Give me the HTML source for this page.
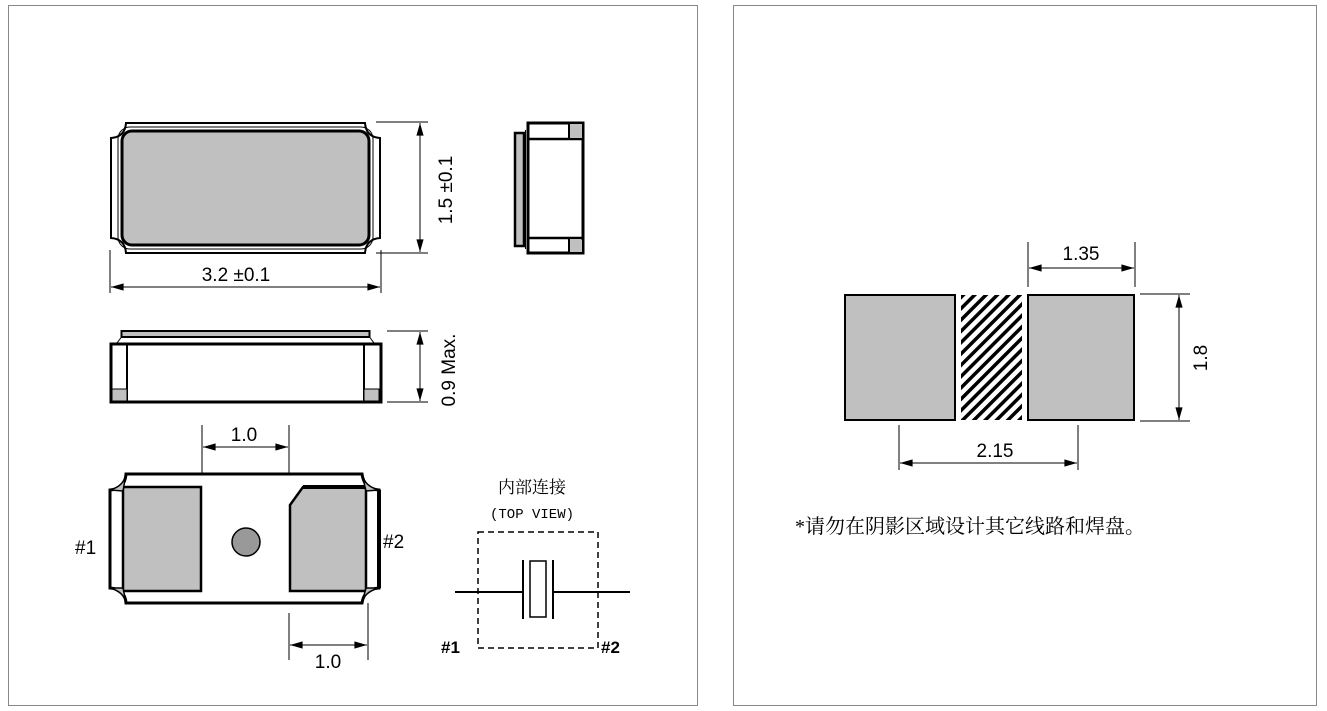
<!DOCTYPE html>
<html><head><meta charset="utf-8"><style>
body{margin:0;background:#fff;}
svg{display:block;}
text{font-family:"Liberation Sans",sans-serif;fill:#000;}
.cn{font-family:"Liberation Serif","Noto Serif CJK SC","Noto Sans CJK SC",serif;}
</style></head><body>
<svg width="1327" height="711" viewBox="0 0 1327 711" xmlns="http://www.w3.org/2000/svg">
<defs>
<marker id="a" viewBox="0 0 14 10" refX="14" refY="5" markerWidth="14" markerHeight="9" markerUnits="userSpaceOnUse" orient="auto-start-reverse"><path d="M0,1 L14,5 L0,9 Z" fill="#000"/></marker>
<pattern id="h" patternUnits="userSpaceOnUse" width="8" height="8" patternTransform="rotate(45)"><rect width="8" height="8" fill="#fff"/><rect x="0" y="0" width="3.5" height="8" fill="#000"/></pattern>
</defs>
<rect x="8.5" y="5.5" width="689" height="700" fill="none" stroke="#888" stroke-width="1"/>
<rect x="733.5" y="5.5" width="583" height="700" fill="none" stroke="#888" stroke-width="1"/>

<!-- top view -->
<path d="M126,123 L365,123 Q366,137 380,138 L380,238 Q366,239 365,253 L126,253 Q125,239 111,238 L111,138 Q125,137 126,123 Z" fill="#fff" stroke="#000" stroke-width="2"/>
<rect x="118" y="127" width="255" height="122" rx="12" fill="none" stroke="#000" stroke-width="1"/>
<rect x="122" y="131" width="247" height="114" rx="10" fill="#c0c0c0" stroke="#000" stroke-width="3"/>
<g stroke="#000" stroke-width="1">
<line x1="376" y1="122" x2="428" y2="122"/><line x1="376" y1="253" x2="428" y2="253"/>
<line x1="420" y1="123" x2="420" y2="252" marker-start="url(#a)" marker-end="url(#a)"/>
<line x1="110" y1="250" x2="110" y2="293"/><line x1="381" y1="250" x2="381" y2="293"/>
<line x1="111" y1="287" x2="380" y2="287" marker-start="url(#a)" marker-end="url(#a)"/>
</g>
<text x="236" y="281" font-size="19" text-anchor="middle">3.2 ±0.1</text>
<text transform="translate(452,190) rotate(-90)" font-size="19" text-anchor="middle">1.5 ±0.1</text>

<!-- side view -->
<rect x="515" y="133" width="9" height="113" fill="#c0c0c0" stroke="#000" stroke-width="2.5"/>
<line x1="525.5" y1="130" x2="525.5" y2="249" stroke="#000" stroke-width="1"/>
<rect x="528" y="123" width="55" height="130" fill="#fff" stroke="#000" stroke-width="3"/>
<line x1="528" y1="139" x2="583" y2="139" stroke="#000" stroke-width="2.5"/>
<line x1="528" y1="238" x2="583" y2="238" stroke="#000" stroke-width="2.5"/>
<rect x="570" y="124" width="12" height="14" fill="#c0c0c0"/>
<rect x="570" y="240" width="12" height="12" fill="#c0c0c0"/>
<line x1="569" y1="124" x2="569" y2="139" stroke="#000" stroke-width="2"/>
<line x1="569" y1="238" x2="569" y2="253" stroke="#000" stroke-width="2"/>

<!-- front view -->
<path d="M121.5,337 L121.5,331 L369.5,331 L369.5,337 L374,343 L117,343 Z" fill="#fff" stroke="#000" stroke-width="1"/>
<rect x="121.5" y="331" width="248" height="6" fill="#c0c0c0" stroke="#000" stroke-width="2"/>
<rect x="111" y="344" width="270" height="58" fill="#fff" stroke="#000" stroke-width="3"/>
<line x1="127" y1="344" x2="127" y2="402" stroke="#000" stroke-width="2"/>
<line x1="364" y1="344" x2="364" y2="402" stroke="#000" stroke-width="2"/>
<rect x="112" y="389" width="15" height="12" fill="#c0c0c0" stroke="#000" stroke-width="1"/>
<rect x="364" y="389" width="15" height="12" fill="#c0c0c0" stroke="#000" stroke-width="1"/>
<g stroke="#000" stroke-width="1">
<line x1="387" y1="331" x2="428" y2="331"/><line x1="387" y1="402" x2="428" y2="402"/>
<line x1="420" y1="332" x2="420" y2="401" marker-start="url(#a)" marker-end="url(#a)"/>
</g>
<text transform="translate(455,370) rotate(-90)" font-size="19" text-anchor="middle">0.9 Max.</text>

<!-- bottom view -->
<path d="M126,474 L362,474 Q364,489 379,490 L379,588 Q364,589 362,603 L126,603 Q125,589 110,588 L110,490 Q125,489 126,474 Z" fill="#fff" stroke="#000" stroke-width="3"/>
<rect x="123" y="487" width="78" height="104" fill="#c0c0c0" stroke="#000" stroke-width="2.5"/>
<path d="M303,487 L366,487 L366,591 L290,591 L290,505 Z" fill="#c0c0c0" stroke="#000" stroke-width="2.5"/>
<line x1="303" y1="487" x2="366" y2="487" stroke="#000" stroke-width="4"/>
<line x1="379" y1="490" x2="379" y2="588" stroke="#000" stroke-width="4"/>
<path d="M126,474 Q124,486 110,490 L123,491 Z M126,603 Q124,592 110,588 L123,588 Z M362,474 Q364,486 379,490 L366,491 Z M362,603 Q364,592 379,588 L366,588 Z" fill="#c0c0c0" stroke="#000" stroke-width="1.5"/>
<circle cx="246" cy="542" r="14" fill="#999" stroke="#000" stroke-width="1.5"/>
<g stroke="#000" stroke-width="1">
<line x1="202" y1="425" x2="202" y2="474"/><line x1="289" y1="425" x2="289" y2="474"/>
<line x1="203" y1="447" x2="288" y2="447" marker-start="url(#a)" marker-end="url(#a)"/>
<line x1="289" y1="613" x2="289" y2="660"/><line x1="368" y1="603" x2="368" y2="660"/>
<line x1="290" y1="645" x2="367" y2="645" marker-start="url(#a)" marker-end="url(#a)"/>
</g>
<text x="244" y="441" font-size="19" text-anchor="middle">1.0</text>
<text x="328" y="668" font-size="19" text-anchor="middle">1.0</text>
<text x="75" y="554" font-size="19">#1</text>
<text x="383" y="548" font-size="19">#2</text>

<!-- schematic -->
<text x="532" y="493" class="cn" font-size="17" text-anchor="middle">内部连接</text>
<text x="532" y="518" font-size="14" text-anchor="middle" style="font-family:'Liberation Mono',monospace">(TOP VIEW)</text>
<rect x="478" y="532" width="120" height="116" fill="none" stroke="#000" stroke-width="1.5" stroke-dasharray="6,4"/>
<g stroke="#000" stroke-width="2">
<line x1="455" y1="592" x2="523" y2="592"/><line x1="553" y1="592" x2="630" y2="592"/>
<line x1="523" y1="560" x2="523" y2="619"/><line x1="553" y1="560" x2="553" y2="619"/>
</g>
<rect x="530" y="561" width="16" height="56" fill="#fff" stroke="#000" stroke-width="1.5"/>
<text x="441" y="653" font-size="17" font-weight="bold">#1</text>
<text x="601" y="653" font-size="17" font-weight="bold">#2</text>

<!-- right panel -->
<rect x="845" y="295" width="110" height="125" fill="#c0c0c0" stroke="#000" stroke-width="2"/>
<rect x="961" y="295" width="61" height="125" fill="url(#h)"/>
<rect x="1028" y="295" width="106" height="125" fill="#c0c0c0" stroke="#000" stroke-width="2"/>
<g stroke="#000" stroke-width="1">
<line x1="1028" y1="242" x2="1028" y2="287"/><line x1="1135" y1="242" x2="1135" y2="287"/>
<line x1="1029" y1="268" x2="1134" y2="268" marker-start="url(#a)" marker-end="url(#a)"/>
<line x1="1140" y1="294" x2="1190" y2="294"/><line x1="1140" y1="421" x2="1190" y2="421"/>
<line x1="1179" y1="295" x2="1179" y2="420" marker-start="url(#a)" marker-end="url(#a)"/>
<line x1="899" y1="425" x2="899" y2="470"/><line x1="1078" y1="425" x2="1078" y2="470"/>
<line x1="900" y1="463" x2="1077" y2="463" marker-start="url(#a)" marker-end="url(#a)"/>
</g>
<text x="1081" y="260" font-size="19" text-anchor="middle">1.35</text>
<text x="995" y="457" font-size="19" text-anchor="middle">2.15</text>
<text transform="translate(1207,358) rotate(-90)" font-size="19" text-anchor="middle">1.8</text>
<text x="795" y="533" class="cn" font-size="20">*请勿在阴影区域设计其它线路和焊盘。</text>
</svg>
</body></html>
